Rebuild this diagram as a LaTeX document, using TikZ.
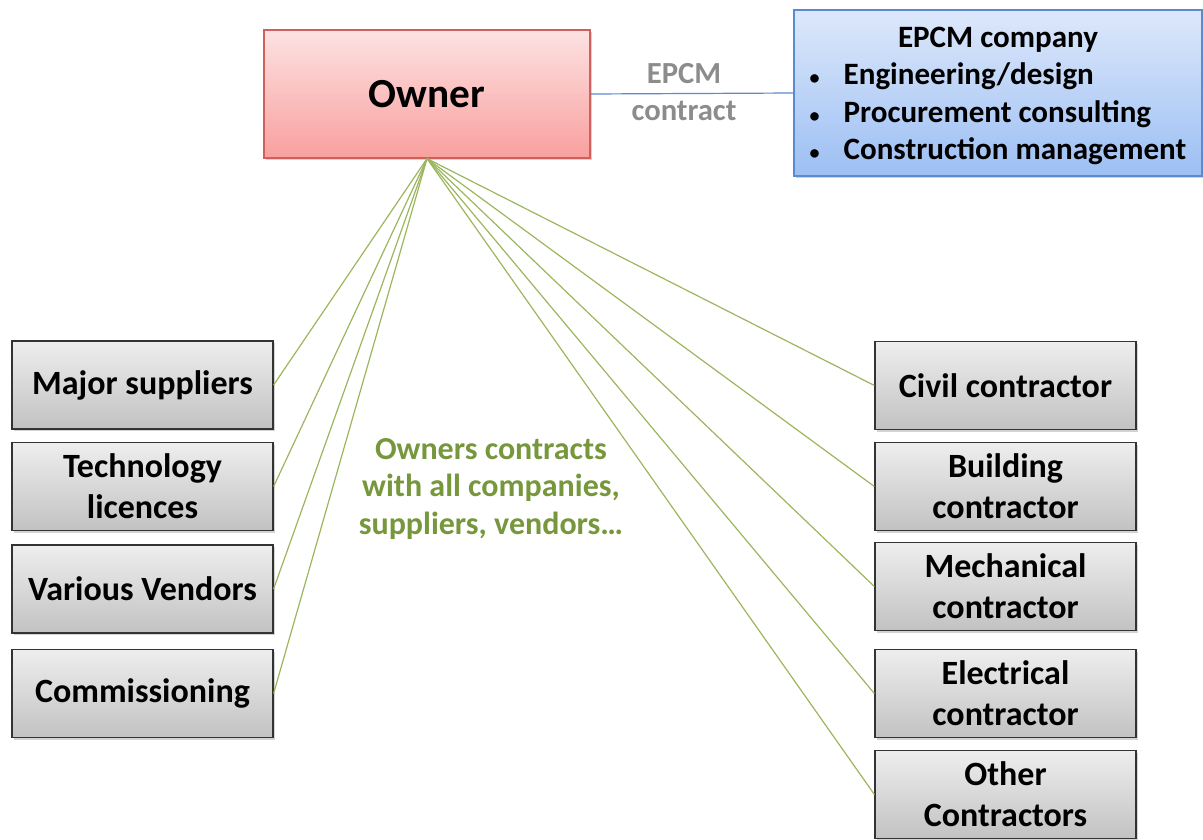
\documentclass[tikz,border=0pt]{standalone}
\usepackage{fontspec}
\setmainfont{Carlito}
\usetikzlibrary{shadows}

\definecolor{ownertop}{HTML}{FDE2E2}
\definecolor{ownerbot}{HTML}{F8A09E}
\definecolor{ownerline}{HTML}{D0605E}
\definecolor{epcmtop}{HTML}{DDE8FB}
\definecolor{epcmbot}{HTML}{9CBFF3}
\definecolor{epcmline}{HTML}{5A8AD0}
\definecolor{greytop}{HTML}{EEEEEE}
\definecolor{greybot}{HTML}{C2C2C2}
\definecolor{linkgreen}{HTML}{9BB65E}
\definecolor{notegreen}{HTML}{76973B}
\definecolor{labelgrey}{HTML}{8C8C8C}

\tikzset{
  party/.style={draw=black!80, line width=0.9pt, top color=greytop, bottom color=greybot,
    minimum width=261*0.75pt, minimum height=88*0.75pt, align=center,
    font=\bfseries\fontsize{25.5}{31}\selectfont, inner sep=0pt,
    drop shadow={shadow xshift=1.5pt, shadow yshift=-1.5pt, opacity=0.35}},
  ownerbox/.style={draw=ownerline, line width=0.9pt, top color=ownertop, bottom color=ownerbot,
    minimum width=326*0.75pt, minimum height=128*0.75pt,
    font=\bfseries\fontsize{31}{34}\selectfont,
    drop shadow={shadow xshift=1.5pt, shadow yshift=-1.5pt, opacity=0.35}},
  epcmbox/.style={draw=epcmline, line width=0.9pt, top color=epcmtop, bottom color=epcmbot,
    minimum width=408*0.75pt, minimum height=166*0.75pt, inner sep=0pt,
    font=\bfseries\fontsize{23.3}{28}\selectfont,
    drop shadow={shadow xshift=1.5pt, shadow yshift=-1.5pt, opacity=0.35}},
  link/.style={draw=linkgreen, line width=0.9pt},
  note/.style={align=center, font=\bfseries\fontsize{24}{28}\selectfont}
}
\newcommand{\smallbullet}{{\fontsize{15}{15}\selectfont\textbullet}}

\begin{document}
\begin{tikzpicture}[x=0.75pt,y=-0.75pt]
  \useasboundingbox (0,0) rectangle (1203,839);

  % owner and EPCM company
  \node[ownerbox] (owner) at (427,94) {Owner};
  \node[epcmbox] (epcm) at (998,93) {%
    \begin{tabular}{@{}l@{\hspace{18pt}}l@{}}
      \multicolumn{2}{c}{\rule{0pt}{24pt}EPCM company}\\
      \smallbullet & Engineering/design\\
      \smallbullet & Procurement consulting\\
      \smallbullet & Construction management
    \end{tabular}};
  \draw[draw=epcmline, line width=0.9pt] (owner.east) -- (epcm.west);
  \node[note, text=labelgrey, font=\bfseries\fontsize{23}{28}\selectfont] (epcmlabel) at (684,92) {EPCM\\contract};

  % suppliers (left)
  \node[party] (major) at (142.5,385) {Major suppliers};
  \node[party] (tech) at (142.5,486.5) {Technology\\licences};
  \node[party] (vendors) at (142.5,589) {Various Vendors};
  \node[party] (commis) at (142.5,693.5) {Commissioning};

  % contractors (right)
  \node[party] (civil) at (1005.5,385.5) {Civil contractor};
  \node[party] (building) at (1005.5,486.5) {Building\\contractor};
  \node[party] (mech) at (1005.5,586.5) {Mechanical\\contractor};
  \node[party] (elec) at (1005.5,693.5) {Electrical\\contractor};
  \node[party] (other) at (1005.5,794.5) {Other\\Contractors};

  \node[note, text=notegreen] (contracts) at (491,489) {Owners contracts\\with all companies,\\suppliers, vendors\dots};

  \foreach \n in {major,tech,vendors,commis}
    \draw[link] (owner.south) -- (\n.east);
  \foreach \n in {civil,building,mech,elec,other}
    \draw[link] (owner.south) -- (\n.west);
\end{tikzpicture}
\end{document}
